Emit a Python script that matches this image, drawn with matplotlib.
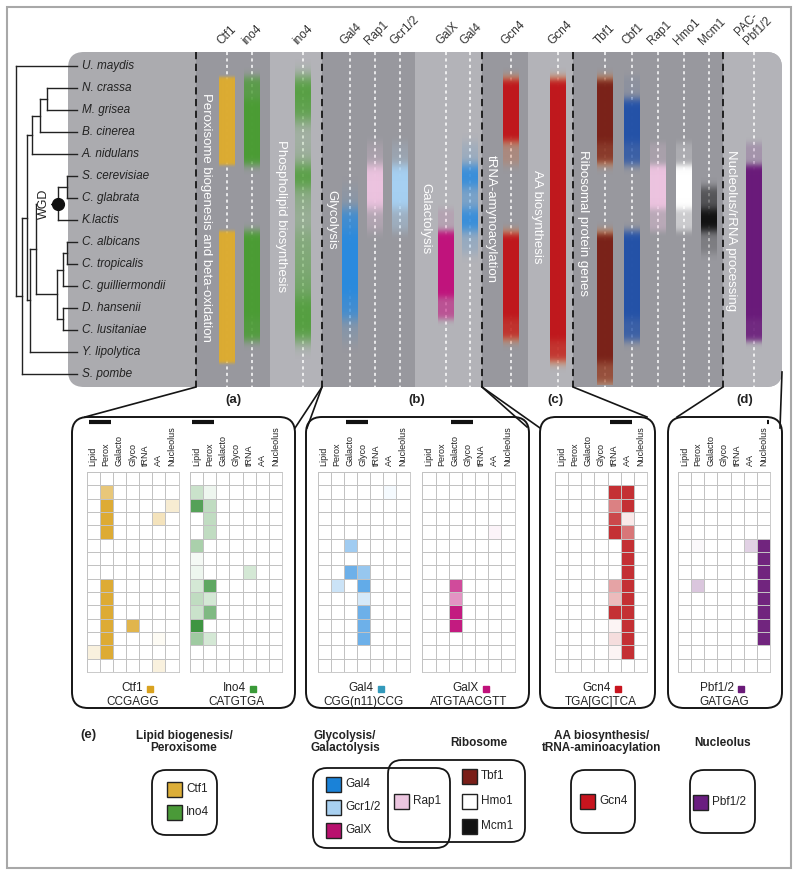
import numpy as np
import matplotlib
matplotlib.use("Agg")
from matplotlib import pyplot as plt
from matplotlib.patches import FancyBboxPatch, Rectangle
from matplotlib.colors import LinearSegmentedColormap, to_rgb

plt.rcParams['font.family'] = ['Liberation Sans', 'DejaVu Sans']

# ---------------- data ----------------
species = ["U. maydis", "N. crassa", "M. grisea", "B. cinerea", "A. nidulans",
           "S. cerevisiae", "C. glabrata", "K.lactis", "C. albicans", "C. tropicalis",
           "C. guilliermondii", "D. hansenii", "C. lusitaniae", "Y. lipolytica", "S. pombe"]

# cladogram: (node x, children[, mark]); leaves are species indices
tree = (16, [0, (22, [(27, [(32, [(40, [(47, [1, 2]), 3]), 4]),
                            (30, [(36, [(58, [(67, [5, 6]), 7], "WGD"),
                                        (57, [(63, [(67, [8, 9]), 10]), (63, [11, 12])])]),
                                  13])]),
                      14])])

band_names = ["Ctf1", "ino4", "ino4", "Gal4", "Rap1", "Gcr1/2", "GalX", "Gal4",
              "Gcn4", "Gcn4", "Tbf1", "Cbf1", "Rap1", "Hmo1", "Mcm1", "PAC-\nPbf1/2"]
band_colors = ["#dcac32", "#4b9d34", "#4b9d34", "#2a8ade", "#ecc3df", "#a6d0f2", "#c0137c", "#2a8ade",
               "#c0171c", "#c0171c", "#7a2218", "#2452a8", "#ecc3df", "#ffffff", "#111111", "#6a1a7a"]
# colour the faded ends drift towards (None = plain fade)
band_tints = [None, None, None, None, None, None, None, None,
              "#d8703a", "#d8703a", "#c8703a", None, None, None, None, None]
band_values = [
    [0, 1, 1, 1, 1, 0, 0, 0, 1, 1, 1, 1, 1, 1, 0],
    [0, 0.8, 1, 1, 1, 0, 0, 0, 1, 1, 1, 1, 0.9, 0, 0],
    [0, 0.9, 0.8, 0.15, 0.2, 0.9, 0.35, 0.25, 0.45, 0.5, 0.6, 0.9, 0.9, 0, 0],
    [0, 0, 0, 0, 0, 0, 0.1, 0.8, 1, 1, 1, 0.8, 0.15, 0, 0],
    [0, 0, 0, 0, 0.2, 1, 1, 0.3, 0, 0, 0, 0, 0, 0, 0],
    [0, 0, 0, 0, 0.2, 1, 1, 0.4, 0, 0, 0, 0, 0, 0, 0],
    [0, 0, 0, 0, 0, 0, 0, 0.1, 1, 1, 1, 0.6, 0, 0, 0],
    [0, 0, 0, 0, 0.15, 0.9, 0.4, 0.9, 0.2, 0, 0, 0, 0, 0, 0],
    [0, 1, 1, 1, 0.3, 0, 0, 0, 1, 1, 1, 1, 0.9, 0, 0],
    [0, 1, 1, 1, 1, 1, 1, 1, 1, 1, 1, 1, 1, 0.9, 0],
    [0, 1, 1, 1, 0.9, 0, 0, 0, 1, 1, 1, 1, 1, 1, 0.8],
    [0, 0.1, 1, 1, 0.8, 0, 0, 0, 1, 1, 1, 1, 0.8, 0, 0],
    [0, 0, 0, 0, 0.2, 1, 1, 0.4, 0, 0, 0, 0, 0, 0, 0],
    [0, 0, 0, 0, 0.2, 1, 1, 0.5, 0, 0, 0, 0, 0, 0, 0],
    [0, 0, 0, 0, 0, 0, 0.5, 1, 0.2, 0, 0, 0, 0, 0, 0],
    [0, 0, 0, 0, 0.2, 1, 1, 1, 1, 1, 1, 1, 0.9, 0, 0],
]
band_blur = [1.5, 4, 7, 6, 5, 5, 3, 5, 4, 4, 4, 4, 3, 3, 4, 3]

sections = ["Peroxisome biogenesis and beta-oxidation", "Phospholipid biosynthesis", "Glycolysis",
            "Galactolysis", "tRNA-amynoacylation", "AA biosynthesis", "Ribosomal protein genes",
            "Nucleolus/rRNA processing"]

categories = ["Lipid", "Perox", "Galacto", "Glyco", "tRNA", "AA", "Nucleolus"]

ctf1_hm = [[0, 0, 0, 0, 0, 0, 0],
           [0, 0.6, 0, 0, 0, 0, 0],
           [0, 0.9, 0, 0, 0, 0, 0.2],
           [0, 0.9, 0, 0, 0, 0.3, 0],
           [0, 0.9, 0, 0, 0, 0, 0],
           [0, 0, 0, 0, 0, 0, 0],
           [0, 0, 0, 0, 0, 0, 0],
           [0, 0, 0, 0, 0, 0, 0],
           [0, 0.9, 0, 0, 0, 0, 0],
           [0, 0.9, 0, 0, 0, 0, 0],
           [0, 0.9, 0, 0, 0, 0, 0],
           [0, 0.9, 0, 0.8, 0, 0, 0],
           [0, 0.9, 0, 0, 0, 0.05, 0],
           [0.15, 0.9, 0, 0, 0, 0, 0],
           [0, 0, 0, 0, 0, 0.15, 0]]
ino4_hm = [[0, 0, 0, 0, 0, 0, 0],
           [0.25, 0.08, 0, 0, 0, 0, 0],
           [0.8, 0.3, 0, 0, 0, 0, 0],
           [0, 0.3, 0, 0, 0, 0, 0],
           [0, 0.3, 0, 0, 0, 0, 0],
           [0.4, 0, 0, 0, 0, 0, 0],
           [0.05, 0, 0, 0, 0, 0, 0],
           [0.08, 0, 0, 0, 0.2, 0, 0],
           [0.2, 0.75, 0, 0, 0, 0, 0],
           [0.3, 0.2, 0, 0, 0, 0, 0],
           [0.25, 0.6, 0, 0, 0, 0, 0],
           [0.9, 0, 0, 0, 0, 0, 0],
           [0.45, 0.2, 0, 0, 0, 0, 0],
           [0, 0, 0, 0, 0, 0, 0],
           [0, 0, 0, 0, 0, 0, 0]]
gal4_hm = [[0, 0, 0, 0, 0, 0, 0],
           [0, 0, 0, 0, 0, 0.05, 0],
           [0, 0, 0, 0, 0, 0, 0],
           [0, 0, 0, 0, 0, 0, 0],
           [0, 0, 0, 0, 0, 0, 0],
           [0, 0, 0.45, 0, 0, 0, 0],
           [0, 0, 0, 0, 0, 0, 0],
           [0, 0, 0.7, 0.5, 0, 0, 0],
           [0, 0.25, 0, 0.75, 0, 0, 0],
           [0, 0, 0, 0.2, 0, 0, 0],
           [0, 0, 0, 0.7, 0, 0, 0],
           [0, 0, 0, 0.7, 0, 0, 0],
           [0, 0, 0, 0.7, 0, 0, 0],
           [0, 0, 0, 0, 0, 0, 0],
           [0, 0, 0, 0, 0, 0, 0]]
galx_hm = [[0, 0, 0, 0, 0, 0, 0],
           [0, 0, 0, 0, 0, 0, 0],
           [0, 0, 0, 0, 0, 0, 0],
           [0, 0, 0, 0, 0, 0, 0],
           [0, 0, 0, 0, 0, 0.05, 0],
           [0, 0, 0, 0, 0, 0, 0],
           [0, 0, 0, 0, 0, 0, 0],
           [0, 0, 0, 0, 0, 0, 0],
           [0, 0, 0.75, 0, 0, 0, 0],
           [0, 0, 0.45, 0, 0, 0, 0],
           [0, 0, 0.95, 0, 0, 0, 0],
           [0, 0, 0.95, 0, 0, 0, 0],
           [0, 0, 0, 0, 0, 0, 0],
           [0, 0, 0, 0, 0, 0, 0],
           [0, 0, 0, 0, 0, 0, 0]]
gcn4_hm = [[0, 0, 0, 0, 0, 0, 0],
           [0, 0, 0, 0, 0.9, 0.9, 0],
           [0, 0, 0, 0, 0.55, 0.9, 0],
           [0, 0, 0, 0, 0.8, 0.1, 0],
           [0, 0, 0, 0, 0.9, 0.6, 0],
           [0, 0, 0, 0, 0, 0.9, 0],
           [0, 0, 0, 0, 0, 0.9, 0],
           [0, 0, 0, 0, 0, 0.9, 0],
           [0, 0, 0, 0, 0.4, 0.9, 0],
           [0, 0, 0, 0, 0.3, 0.9, 0],
           [0, 0, 0, 0, 0.9, 0.9, 0],
           [0, 0, 0, 0, 0.05, 0.9, 0],
           [0, 0, 0, 0, 0.15, 0.9, 0],
           [0, 0, 0, 0, 0.05, 0.9, 0],
           [0, 0, 0, 0, 0, 0, 0]]
pbf_hm = [[0, 0, 0, 0, 0, 0, 0],
          [0, 0, 0, 0, 0, 0, 0],
          [0, 0, 0, 0, 0, 0, 0],
          [0, 0, 0, 0, 0, 0, 0],
          [0, 0, 0, 0, 0, 0, 0],
          [0, 0.03, 0, 0, 0, 0.2, 0.95],
          [0, 0, 0, 0, 0, 0, 0.95],
          [0, 0, 0, 0, 0, 0, 0.95],
          [0, 0.25, 0, 0, 0, 0, 0.95],
          [0, 0, 0, 0, 0, 0, 0.95],
          [0, 0, 0, 0, 0, 0, 0.95],
          [0, 0, 0, 0, 0, 0, 0.95],
          [0, 0, 0, 0, 0, 0, 0.95],
          [0, 0, 0, 0, 0, 0, 0],
          [0, 0, 0, 0, 0, 0, 0]]

hm_names = ["Ctf1", "Ino4", "Gal4", "GalX", "Gcn4", "Pbf1/2"]
hm_motifs = ["CCGAGG", "CATGTGA", "CGG(n11)CCG", "ATGTAACGTT", "TGA[GC]TCA", "GATGAG"]
hm_values = [ctf1_hm, ino4_hm, gal4_hm, galx_hm, gcn4_hm, pbf_hm]
hm_colors = ["#d9a21f", "#2a8a2e", "#2f8fe0", "#c0107a", "#be1a1e", "#6a1a78"]
hm_marks = ["#d9a21f", "#3a9a38", "#3399bb", "#c0107a", "#c8141e", "#6a1a78"]
hm_bars = [(0, 2), (0, 2), (2, 4), (2, 4), (4, 6), (6.6, 7.1)]

legend_groups = ["Lipid biogenesis/\nPeroxisome", "Glycolysis/\nGalactolysis", "Ribosome",
                 "AA biosynthesis/\ntRNA-aminoacylation", "Nucleolus"]
legend_labels = ["Ctf1", "Ino4", "Gal4", "Gcr1/2", "GalX", "Rap1", "Tbf1", "Hmo1", "Mcm1", "Gcn4", "Pbf1/2"]
legend_colors = ["#dcae38", "#4a9a38", "#1a82d8", "#a8d0f0", "#b8106e", "#ecc6e0",
                 "#7a1e18", "#ffffff", "#111111", "#c8141e", "#6a1e80"]

# ---------------- layout ----------------
W, H = 800, 876
ROW0, ROWH = 55, 22
PANEL = (68, 52, 782, 387)
band_x = [227, 252, 303, 350, 375, 400, 446, 470, 511, 558, 605, 632, 658, 684, 709, 754]
stripe_edges = [196, 270, 322, 415, 482, 528, 573, 723, 782]
dashed_x = [196, 322, 482, 573, 723]
section_pos = [(206, 93), (281, 140), (331, 190), (425, 183), (491, 155), (537, 170), (583, 150), (731, 150)]
hm_left = [86.5, 190, 317.5, 422.5, 555, 678]
HM_TOP, HM_W, HM_H = 472, 92, 200

fig = plt.figure(figsize=(W / 100, H / 100), dpi=100)
ax = fig.add_axes([0, 0, 1, 1])


def row_y(i):
    return ROW0 + ROWH * i + ROWH / 2


def draw_tree(node):
    if isinstance(node, int):
        return 77, row_y(node)
    x, kids = node[0], node[1]
    pts = [draw_tree(k) for k in kids]
    for kx, ky in pts:
        ax.plot([x, kx], [ky, ky], color="#222222", lw=1, zorder=2)
    ax.plot([x, x], [pts[0][1], pts[-1][1]], color="#222222", lw=1, zorder=2)
    y = (pts[0][1] + pts[-1][1]) / 2
    if len(node) > 2:
        ax.plot(x, y, "o", color="#111111", ms=8.5, zorder=5)
        ax.text(x - 14, y, node[2], rotation=90, ha="center", va="center", fontsize=9,
                color="#222222", zorder=4,
                bbox=dict(boxstyle="square,pad=0.1", fc="white", ec="none"))
    return x, y


def smooth_column(vals, sigma):
    fine = np.repeat(np.asarray(vals, float), ROWH)
    k = np.arange(-int(3 * sigma) - 1, int(3 * sigma) + 2)
    kern = np.exp(-0.5 * (k / sigma) ** 2)
    kern /= kern.sum()
    return np.clip(np.convolve(fine, kern, mode="same"), 0, 1)


# outer frame
ax.add_patch(Rectangle((7, 7), 784, 861, fill=False, ec="#a8a8a8", lw=1.5))

# grey panel with stripes
x0, y0, x1, y1 = PANEL
panel = FancyBboxPatch((x0, y0), x1 - x0, y1 - y0, boxstyle="round,pad=0,rounding_size=16",
                       fc="#ababaf", ec="none", zorder=1)
ax.add_patch(panel)
for i in range(len(stripe_edges) - 1):
    shade = "#98989e" if i % 2 == 0 else "#b3b3b8"
    r = Rectangle((stripe_edges[i], y0), stripe_edges[i + 1] - stripe_edges[i], y1 - y0,
                  fc=shade, ec="none", zorder=1.5)
    ax.add_patch(r)
    r.set_clip_path(panel)

for bx in band_x:
    ax.plot([bx, bx], [y0, y1], color="white", lw=1.1, ls=(0, (2, 2.2)), zorder=2)
for dx in dashed_x:
    ax.plot([dx, dx], [y0, y1], color="#151515", lw=1.3, ls=(0, (4, 2.5)), zorder=4)

# colored bands
for name, bx, col, tint, vals, sig in zip(band_names, band_x, band_colors, band_tints,
                                          band_values, band_blur):
    alpha = smooth_column(vals, sig)
    img = np.zeros((len(alpha), 1, 4))
    base = np.array(to_rgb(col))
    if tint is None:
        img[:, 0, :3] = base
    else:
        t = np.array(to_rgb(tint))
        mix = np.clip(alpha, 0, 1)[:, None] ** 2
        img[:, 0, :3] = t + (base - t) * mix
    img[:, 0, 3] = alpha
    ax.imshow(img, extent=(bx - 8, bx + 8, ROW0 + ROWH * len(species), ROW0), origin="upper",
              aspect="auto", interpolation="bilinear", zorder=3)
    ax.text(bx - 4, 47, name, rotation=45, rotation_mode="anchor", ha="left", va="bottom",
            fontsize=8.5, color="#333333", linespacing=1.0)

for label, (sx, sy) in zip(sections, section_pos):
    ax.text(sx, sy, label, rotation=270, rotation_mode="anchor", ha="left", va="center",
            fontsize=9.5, color="white", zorder=5)

# tree + species
draw_tree(tree)
for i, sp in enumerate(species):
    ax.text(82, row_y(i), sp, style="italic", fontsize=8.5, va="center", ha="left", color="#222222")

# zoom connectors
connectors = [((196, 387), (85, 417)), ((322, 387), (295, 428)), ((322, 387), (307, 428)),
              ((482, 387), (527, 427)), ((482, 387), (540, 428)), ((573, 387), (647, 417)),
              ((723, 387), (677, 417)), ((782, 372), (780, 428))]
for (ax0, ay0), (ax1, ay1) in connectors:
    ax.plot([ax0, ax1], [ay0, ay1], color="#151515", lw=1.2)

# heatmap group boxes
for bx0, bx1 in [(72, 295), (306, 529), (540, 655), (668, 782)]:
    ax.add_patch(FancyBboxPatch((bx0, 417), bx1 - bx0, 291, boxstyle="round,pad=0,rounding_size=16",
                                fill=False, ec="#151515", lw=1.4))
for lab, lx in zip(["(a)", "(b)", "(c)", "(d)"], [233, 417, 555, 745]):
    ax.text(lx, 400, lab, fontsize=9.5, fontweight="bold", ha="center", va="center", color="#222222")

# heatmaps
cw = HM_W / len(categories)
for left, vals, col, mark, name, motif, (c0, c1) in zip(hm_left, hm_values, hm_colors, hm_marks,
                                                       hm_names, hm_motifs, hm_bars):
    hax = fig.add_axes([left / W, 1 - (HM_TOP + HM_H) / H, HM_W / W, HM_H / H])
    cmap = LinearSegmentedColormap.from_list(name, ["white", col])
    hax.pcolormesh(np.array(vals), cmap=cmap, vmin=0, vmax=1, edgecolors="#c2c2c2", linewidth=0.6)
    hax.set_xlim(0, len(categories))
    hax.set_ylim(len(species), 0)
    hax.set_yticks([])
    hax.set_xticks(np.arange(len(categories)) + 0.5)
    hax.set_xticklabels(categories, rotation=90, fontsize=6.5, color="#222222")
    hax.xaxis.tick_top()
    hax.tick_params(length=0, pad=4)
    for s in hax.spines.values():
        s.set_color("#c2c2c2")
        s.set_linewidth(0.6)
    hax.patch.set_alpha(0)
    # black bar marking the expected category
    ax.plot([left + c0 * cw + 2, left + min(c1, 7.1) * cw - 2], [422, 422], color="#111111", lw=3,
            solid_capstyle="butt")
    cx = left + HM_W / 2
    ax.text(cx + 10, 688, name, ha="right", va="center", fontsize=8.5, color="#222222")
    ax.plot(cx + 17, 689, "s", color=mark, ms=4.5)
    ax.text(cx, 702, motif, ha="center", va="center", fontsize=8.5, color="#222222")

# legend (e)
ax.text(80, 735, "(e)", fontsize=9.5, fontweight="bold", va="center", color="#222222")
for txt, gx, gy in zip(legend_groups, [184, 345, 479, 602, 723], [742, 742, 743, 742, 743]):
    ax.text(gx, gy, txt, ha="center", va="center", fontsize=8.5, fontweight="bold",
            color="#222222", linespacing=1.1)
for bx0, by0, bx1, by1 in [(152, 770, 217, 835), (313, 768, 450, 848), (388, 760, 525, 842),
                           (571, 770, 635, 833), (690, 770, 755, 833)]:
    ax.add_patch(FancyBboxPatch((bx0, by0), bx1 - bx0, by1 - by0,
                                boxstyle="round,pad=0,rounding_size=14", fill=False, ec="#151515", lw=1.3))
legend_pos = [(167, 789), (167, 812), (326, 784), (326, 807), (326, 830), (394, 801),
              (462, 776), (462, 801), (462, 826), (580, 801), (693, 802)]
for lab, col, (lx, ly) in zip(legend_labels, legend_colors, legend_pos):
    ax.add_patch(Rectangle((lx, ly - 7.5), 15, 15, fc=col, ec="#222222", lw=1))
    ax.text(lx + 19, ly, lab, ha="left", va="center", fontsize=8.5, color="#222222")

ax.set_xlim(0, W)
ax.set_ylim(H, 0)
ax.axis("off")
fig.savefig("out.png", dpi=100)
